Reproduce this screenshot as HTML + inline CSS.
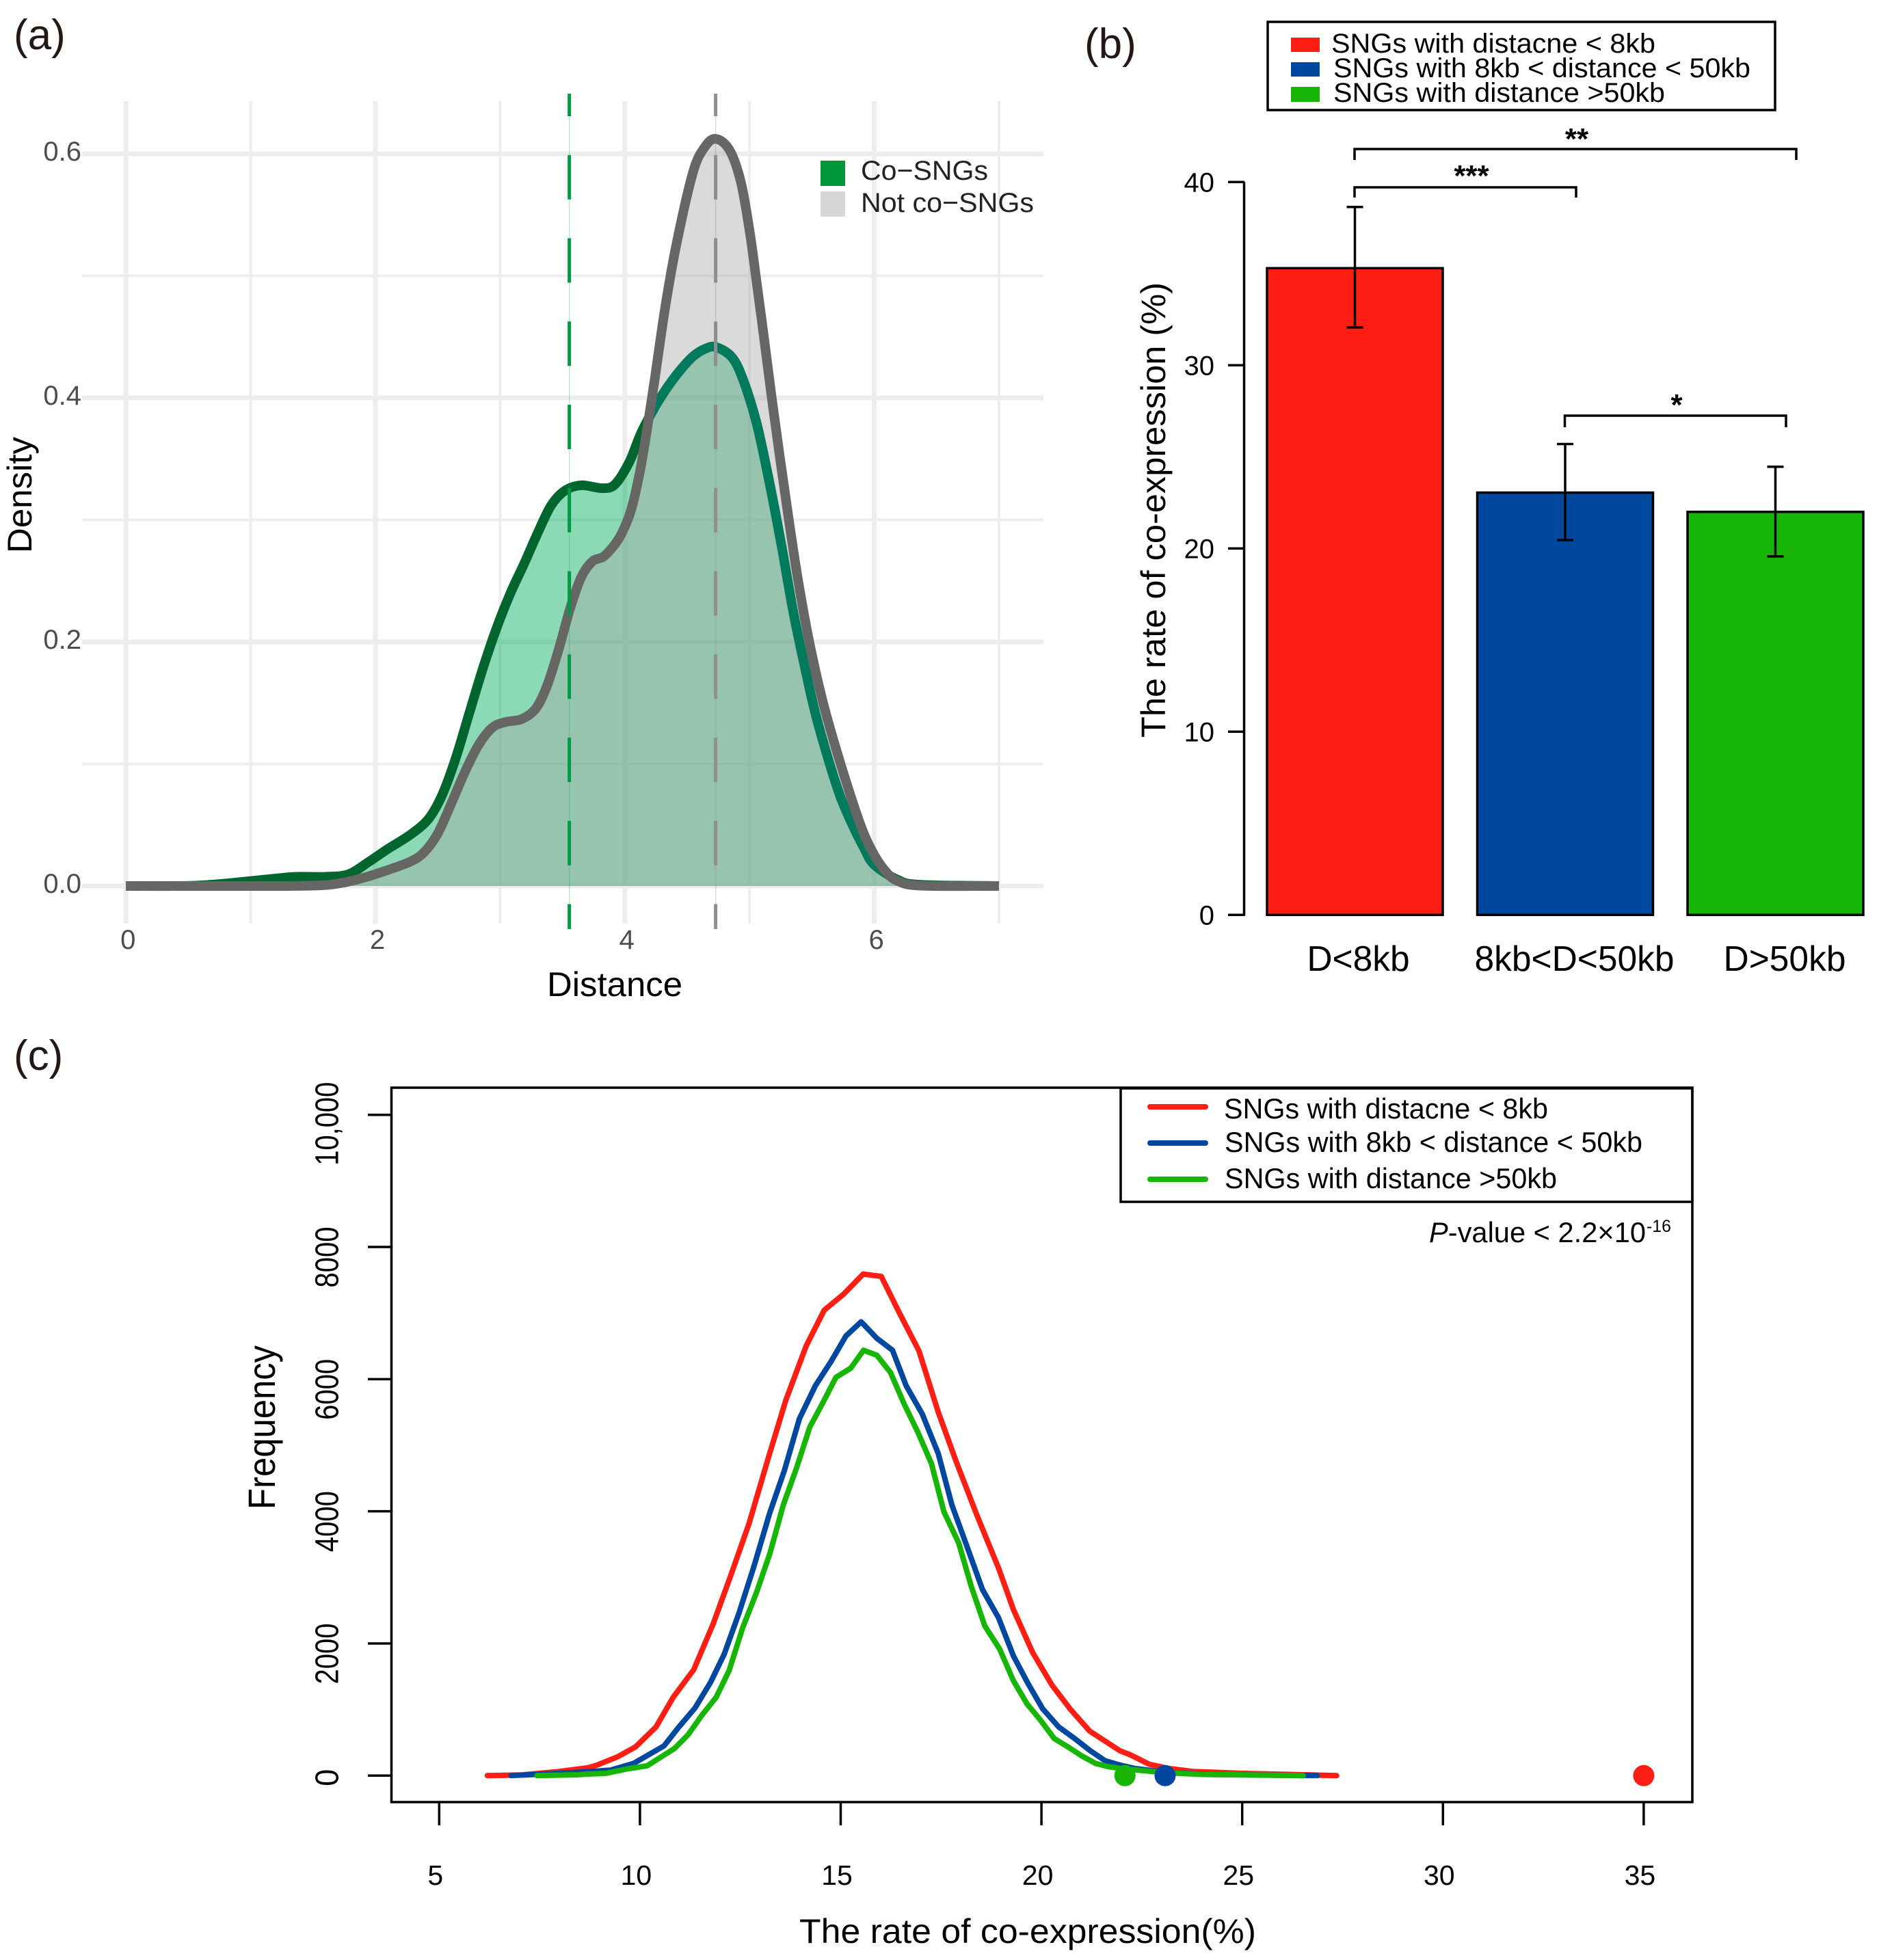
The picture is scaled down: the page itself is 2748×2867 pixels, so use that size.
<!DOCTYPE html>
<html>
<head>
<meta charset="utf-8">
<title>Co-SNG distance and co-expression</title>
<style>
html,body{margin:0;padding:0;background:#fff;width:2748px;height:2867px;overflow:hidden}
svg{display:block}
text{font-family:"Liberation Sans",Arial,sans-serif}
</style>
</head>
<body>
<svg id="fig" xmlns="http://www.w3.org/2000/svg" width="2748" height="2867" viewBox="0 0 2748 2867">
<rect width="2748" height="2867" fill="#fff"/>
<text x="20" y="72" font-size="62" fill="#231815">(a)</text>
<text x="1586" y="85" font-size="62" fill="#231815">(b)</text>
<text x="20" y="1565" font-size="62" fill="#231815">(c)</text>

<g id="panelA"></g>
<text x="899" y="1457" font-size="50" text-anchor="middle" textLength="198" lengthAdjust="spacingAndGlyphs" fill="#000">Distance</text>
<text transform="translate(46,724) rotate(-90)" font-size="50" text-anchor="middle" textLength="170" lengthAdjust="spacingAndGlyphs" fill="#000">Density</text>
<rect x="1200" y="235" width="36" height="37" fill="#009639"/>
<rect x="1200" y="280" width="36" height="37" fill="#d6d6d6"/>
<text x="1259" y="263" font-size="40" textLength="186" lengthAdjust="spacingAndGlyphs" fill="#222">Co−SNGs</text>
<text x="1259" y="310" font-size="40" textLength="253" lengthAdjust="spacingAndGlyphs" fill="#222">Not co−SNGs</text>

<g id="panelB"></g>
<g>
<rect x="1854" y="32" width="742" height="129" fill="#fff" stroke="#000" stroke-width="3.5"/>
<rect x="1888" y="55" width="42" height="21" fill="#ff1e14"/>
<rect x="1888" y="91" width="42" height="21" fill="#0047a0"/>
<rect x="1888" y="127" width="42" height="22" fill="#17b505"/>
<text x="1947" y="77" font-size="40" textLength="474" lengthAdjust="spacingAndGlyphs">SNGs with distacne &lt; 8kb</text>
<text x="1950" y="113" font-size="40" textLength="610" lengthAdjust="spacingAndGlyphs">SNGs with 8kb &lt; distance &lt; 50kb</text>
<text x="1950" y="149" font-size="40" textLength="485" lengthAdjust="spacingAndGlyphs">SNGs with distance &gt;50kb</text>
</g>
<text transform="translate(1704,746) rotate(-90)" font-size="50" text-anchor="middle" textLength="666" lengthAdjust="spacingAndGlyphs">The rate of co-expression (%)</text>
<g fill="none" stroke="#000" stroke-width="3.5">
<path d="M1981 234V218H2627V234"/>
<path d="M1981 289V274H2305V289"/>
<path d="M2288.5 625V608H2612V625"/>
</g>
<text x="2306" y="218" font-size="44" text-anchor="middle" font-weight="bold">**</text>
<text x="2152" y="272" font-size="44" text-anchor="middle" font-weight="bold">***</text>
<text x="2452" y="607" font-size="44" text-anchor="middle" font-weight="bold">*</text>

<g id="panelC"></g>
<g>
<rect x="1639" y="1592" width="836" height="166" fill="none" stroke="#000" stroke-width="3.5"/>
<line x1="1682" x2="1763" y1="1619" y2="1619" stroke="#ff1e14" stroke-width="8" stroke-linecap="round"/>
<line x1="1682" x2="1763" y1="1672" y2="1672" stroke="#0047a0" stroke-width="8" stroke-linecap="round"/>
<line x1="1682" x2="1763" y1="1725" y2="1725" stroke="#17b505" stroke-width="8" stroke-linecap="round"/>
<text x="1790" y="1636" font-size="42" textLength="474" lengthAdjust="spacingAndGlyphs">SNGs with distacne &lt; 8kb</text>
<text x="1791" y="1685" font-size="42" textLength="611" lengthAdjust="spacingAndGlyphs">SNGs with 8kb &lt; distance &lt; 50kb</text>
<text x="1791" y="1738" font-size="42" textLength="486" lengthAdjust="spacingAndGlyphs">SNGs with distance &gt;50kb</text>
</g>
<text x="2090" y="1817" font-size="42" textLength="317" lengthAdjust="spacingAndGlyphs"><tspan font-style="italic">P</tspan>-value &lt; 2.2×10</text>
<text x="2408" y="1802" font-size="25" textLength="36" lengthAdjust="spacingAndGlyphs">-16</text>
<text x="1503" y="2842" font-size="50" text-anchor="middle" textLength="668" lengthAdjust="spacingAndGlyphs">The rate of co-expression(%)</text>
<text transform="translate(402,2088) rotate(-90)" font-size="56" text-anchor="middle" textLength="240" lengthAdjust="spacingAndGlyphs">Frequency</text>
</svg>

<script>
/* Panel (a) data */
const densityXTicks = [0, 2, 4, 6];
const densityXMinor = [1, 3, 5, 7];
const densityYTicks = [0, 0.2, 0.4, 0.6];
const densityYMinor = [0.1, 0.3, 0.5];
const densityYLabels = ['0.0', '0.2', '0.4', '0.6'];
const coX = [0, 0.6, 1.183, 1.365, 1.604, 1.786, 1.95, 2.097, 2.28, 2.426, 2.535, 2.645, 2.754, 2.864, 2.973, 3.083, 3.192, 3.3, 3.41, 3.52, 3.65, 3.815, 3.92, 4.034, 4.125, 4.2, 4.273, 4.364, 4.455, 4.547, 4.64, 4.728, 4.857, 4.948, 5.058, 5.168, 5.258, 5.35, 5.44, 5.53, 5.643, 5.734, 5.826, 5.917, 6, 6.19, 6.37, 7];
const coY = [0, 0.0005, 0.006, 0.0076, 0.0076, 0.0097, 0.02, 0.0302, 0.042, 0.055, 0.0745, 0.105, 0.142, 0.179, 0.2117, 0.24, 0.264, 0.289, 0.312, 0.324, 0.3284, 0.326, 0.329, 0.347, 0.37, 0.385, 0.398, 0.412, 0.424, 0.434, 0.44, 0.4417, 0.4335, 0.415, 0.3787, 0.3263, 0.278, 0.225, 0.181, 0.1406, 0.1, 0.0717, 0.05, 0.0314, 0.0174, 0.005, 0.001, 0];
const notX = [0, 1.18, 1.55, 1.73, 1.914, 2.097, 2.28, 2.39, 2.5, 2.61, 2.72, 2.83, 2.94, 3.05, 3.17, 3.285, 3.376, 3.47, 3.56, 3.65, 3.74, 3.83, 3.92, 3.98, 4.05, 4.118, 4.172, 4.235, 4.326, 4.418, 4.547, 4.637, 4.728, 4.84, 4.93, 5, 5.05, 5.115, 5.178, 5.245, 5.315, 5.39, 5.479, 5.59, 5.73, 5.89, 6, 6.1, 6.19, 6.37, 7];
const notY = [0, 0, 0.0005, 0.0025, 0.007, 0.013, 0.02, 0.0276, 0.043, 0.068, 0.094, 0.116, 0.13, 0.1345, 0.1367, 0.1453, 0.164, 0.194, 0.227, 0.253, 0.266, 0.27, 0.28, 0.29, 0.308, 0.338, 0.37, 0.412, 0.4757, 0.528, 0.585, 0.605, 0.6123, 0.603, 0.577, 0.537, 0.5, 0.45, 0.4, 0.35, 0.3, 0.25, 0.2, 0.15, 0.1, 0.05, 0.0254, 0.011, 0.004, 0.0003, 0];
const coMedian = 3.555;
const notMedian = 4.728;

/* Panel (b) data */
const barCategories = ['D<8kb', '8kb<D<50kb', 'D>50kb'];
const barValues = [35.3, 23.05, 22];
const barErrHigh = [38.64, 25.7, 24.46];
const barErrLow = [32.07, 20.46, 19.57];
const barColors = ['#ff1e14', '#0047a0', '#17b505'];
const barYTicks = [0, 10, 20, 30, 40];

/* Panel (c) data */
const freqXTicks = [5, 10, 15, 20, 25, 30, 35];
const freqYTicks = [0, 2000, 4000, 6000, 8000, 10000];
const freqYLabels = ['0', '2000', '4000', '6000', '8000', '10,000'];
const redX = [6.2, 7.03, 7.99, 8.7, 8.93, 9.44, 9.89, 10.4, 10.83, 11.34, 11.82, 12.27, 12.72, 13.18, 13.63, 14.14, 14.59, 15.08, 15.56, 16.01, 16.46, 16.95, 17.43, 17.88, 18.39, 18.93, 19.3, 19.78, 20.26, 20.71, 21.2, 21.68, 21.96, 22.21, 22.69, 23.17, 23.77, 24.96, 26.16, 27.35];
const redY = [0, 9, 63, 119, 159, 284, 435, 736, 1187, 1603, 2290, 3042, 3820, 4772, 5675, 6502, 7044, 7290, 7590, 7555, 7004, 6427, 5500, 4747, 3945, 3143, 2516, 1864, 1372, 1012, 675, 485, 375, 316, 171, 108, 63, 36, 18, 0];
const blueX = [6.79, 7.99, 8.7, 9.27, 9.84, 10.6, 10.97, 11.37, 11.76, 12.1, 12.47, 12.84, 13.23, 13.6, 13.97, 14.37, 14.77, 15.13, 15.51, 15.9, 16.29, 16.63, 17.03, 17.43, 17.77, 18.16, 18.53, 18.93, 19.3, 19.67, 20.03, 20.43, 20.83, 21.22, 21.59, 21.96, 22.33, 23.17, 24.24, 26.87];
const blueY = [0, 36, 59, 84, 184, 450, 736, 1022, 1413, 1839, 2466, 3168, 3970, 4622, 5399, 5901, 6277, 6653, 6868, 6618, 6437, 5901, 5474, 4873, 4095, 3444, 2817, 2390, 1814, 1388, 1012, 736, 560, 375, 224, 159, 108, 45, 18, 0];
const greenX = [7.44, 8.47, 8.7, 9.15, 9.66, 10.18, 10.86, 11.2, 11.54, 11.9, 12.22, 12.56, 12.9, 13.24, 13.57, 13.91, 14.23, 14.54, 14.88, 15.25, 15.57, 15.9, 16.24, 16.58, 16.92, 17.26, 17.57, 17.94, 18.25, 18.59, 18.96, 19.3, 19.64, 19.98, 20.32, 20.66, 21, 21.35, 21.68, 21.96, 23.05, 24, 25.2, 26.52];
const greenY = [0, 14, 24, 34, 99, 149, 410, 620, 911, 1187, 1588, 2240, 2766, 3368, 4095, 4672, 5274, 5625, 6026, 6166, 6437, 6362, 6101, 5625, 5199, 4722, 3995, 3519, 2867, 2265, 1914, 1438, 1087, 836, 560, 435, 300, 184, 134, 109, 45, 18, 9, 0];
const observedX = [35, 23.08, 22.08];
const observedY = [0, 0, 0];

const NS = 'http://www.w3.org/2000/svg';
function mk(tag, attrs, parent, txt) {
  const el = document.createElementNS(NS, tag);
  for (const k in attrs) el.setAttribute(k, attrs[k]);
  if (txt !== undefined) el.textContent = txt;
  parent.appendChild(el);
  return el;
}

/* ---------- Panel (a) ---------- */
const A = document.getElementById('panelA');
const ax = v => 184.2 + 182.4 * v;
const ay = v => 1296 - 1785 * v;
const GRID = '#ededed';

densityXMinor.forEach(v => {
  const el = mk('line', {x1: ax(v), x2: ax(v), y1: 148, y2: 1351, stroke: GRID, 'stroke-width': 4}, A);
  
  
});
densityYMinor.forEach(v => {
  const el = mk('line', {x1: 120, x2: 1526, y1: ay(v), y2: ay(v), stroke: GRID, 'stroke-width': 4}, A);
  
  
});
densityXTicks.forEach(v => {
  const el = mk('line', {x1: ax(v), x2: ax(v), y1: 148, y2: 1351, stroke: GRID, 'stroke-width': 7}, A);
  
  
  const t = mk('text', {x: ax(v) + 3, y: 1388, 'font-size': 40, 'text-anchor': 'middle', fill: '#4d4d4d'}, A, String(v));
  
  
});
densityYTicks.forEach((v, i) => {
  const el = mk('line', {x1: 120, x2: 1526, y1: ay(v), y2: ay(v), stroke: GRID, 'stroke-width': 7}, A);
  
  
  const t = mk('text', {x: 119, y: ay(v) + 10, 'font-size': 40, 'text-anchor': 'end', fill: '#4d4d4d'}, A, densityYLabels[i]);
  
  
});

function smoothPath(xs, ys) {
  const p = xs.map((x, i) => [ax(x), ay(ys[i])]);
  let d = 'M' + p[0][0] + ' ' + p[0][1];
  for (let i = 0; i < p.length - 1; i++) {
    const a = p[Math.max(i - 1, 0)], b = p[i], c = p[i + 1], e = p[Math.min(i + 2, p.length - 1)];
    const c1x = b[0] + (c[0] - a[0]) / 6, c1y = b[1] + (c[1] - a[1]) / 6;
    const c2x = c[0] - (e[0] - b[0]) / 6, c2y = c[1] - (e[1] - b[1]) / 6;
    d += 'C' + c1x + ' ' + c1y + ' ' + c2x + ' ' + c2y + ' ' + c[0] + ' ' + c[1];
  }
  return d;
}
const coLine = smoothPath(coX, coY);
const notLine = smoothPath(notX, notY);
const baseClose = xs => 'L' + ax(xs[xs.length - 1]) + ' ' + ay(0) + 'L' + ax(xs[0]) + ' ' + ay(0) + 'Z';

const coFill = mk('path', {d: coLine + baseClose(coX), fill: 'rgba(0,170,90,0.45)'}, A);


const coStroke = mk('path', {d: coLine, fill: 'none', stroke: '#00662e', 'stroke-width': 14}, A);



const notFill = mk('path', {d: notLine + baseClose(notX), fill: 'rgba(166,166,166,0.42)'}, A);



const defs = mk('defs', {}, A);
const clip = mk('clipPath', {id: 'notClip'}, defs);
mk('path', {d: notLine + baseClose(notX)}, clip);
const coOverlap = mk('path', {d: coLine, fill: 'none', stroke: '#007a5c', 'stroke-width': 14, 'clip-path': 'url(#notClip)'}, A);



const notStroke = mk('path', {d: notLine, fill: 'none', stroke: '#666665', 'stroke-width': 14}, A);



const coThin = mk('line', {x1: ax(coMedian), x2: ax(coMedian), y1: 137, y2: 1359, stroke: 'rgba(0,150,70,0.25)', 'stroke-width': 1.5}, A);


const coDash = mk('line', {x1: ax(coMedian), x2: ax(coMedian), y1: 137, y2: 1359, stroke: '#009944', 'stroke-width': 5, 'stroke-dasharray': '65 56.75', 'stroke-dashoffset': 32}, A);


const notThin = mk('line', {x1: ax(notMedian), x2: ax(notMedian), y1: 137, y2: 1359, stroke: 'rgba(130,130,130,0.3)', 'stroke-width': 1.5}, A);


const notDash = mk('line', {x1: ax(notMedian), x2: ax(notMedian), y1: 137, y2: 1359, stroke: '#8e8e8e', 'stroke-width': 5, 'stroke-dasharray': '65 56.75', 'stroke-dashoffset': 32}, A);



/* ---------- Panel (b) ---------- */
const B = document.getElementById('panelB');
const by = v => 1338.3 - 26.8 * v;
const bx = i => 1981.5 + 307.5 * i;
const BW = 257;

barYTicks.forEach(v => {
  const tick = mk('line', {x1: 1796, x2: 1820, y1: by(v), y2: by(v), stroke: '#000', 'stroke-width': 3.5}, B);
  
  
  const t = mk('text', {x: 1776, y: by(v) + 14, 'font-size': 40, 'text-anchor': 'end'}, B, String(v));
  
  
});
const bAxis = mk('line', {x1: 1819.5, x2: 1819.5, y1: by(40), y2: by(0) + 1.5, stroke: '#000', 'stroke-width': 3.5}, B);



barCategories.forEach((c, i) => {
  const r = mk('rect', {x: bx(i) - BW / 2, y: by(barValues[i]), width: BW, height: by(0) - by(barValues[i]), fill: barColors[i], stroke: '#000', 'stroke-width': 3.5}, B);
  
  
  const e = mk('path', {d: 'M' + (bx(i) - 12) + ' ' + by(barErrHigh[i]) + 'H' + (bx(i) + 12) + 'M' + bx(i) + ' ' + by(barErrHigh[i]) + 'V' + by(barErrLow[i]) + 'M' + (bx(i) - 12) + ' ' + by(barErrLow[i]) + 'H' + (bx(i) + 12), fill: 'none', stroke: '#000', 'stroke-width': 3.5}, B);
  
  
  const t = mk('text', {x: bx(i) + (i === 0 ? 5 : 13.5), y: 1420, 'font-size': 51.5, 'text-anchor': 'middle'}, B, c);
  
  
});

/* ---------- Panel (c) ---------- */
const C = document.getElementById('panelC');
const cx = v => 642.3 + 58.72 * (v - 5);
const cy = v => 2597.3 - 0.09666 * v;

const cBox = mk('rect', {x: 572.5, y: 1591, width: 1902.5, height: 1045, fill: 'none', stroke: '#000', 'stroke-width': 3.5}, C);



freqXTicks.forEach(v => {
  const tick = mk('line', {x1: cx(v), x2: cx(v), y1: 2636, y2: 2670, stroke: '#000', 'stroke-width': 3.5}, C);
  
  
  const t = mk('text', {x: cx(v) - 5.5, y: 2757, 'font-size': 41, 'text-anchor': 'middle'}, C, String(v));
  
  
});
freqYTicks.forEach((v, i) => {
  const tick = mk('line', {x1: 538, x2: 572, y1: cy(v), y2: cy(v), stroke: '#000', 'stroke-width': 3.5}, C);
  
  
  const lab = freqYLabels[i];
  const shift = lab.length === 1 ? 3 : (lab.length > 4 ? 13 : 15);
  const len = lab.length === 1 ? 25 : (lab.length > 4 ? 122 : 89);
  const t = mk('text', {transform: 'translate(494.7,' + (cy(v) + shift) + ') rotate(-90)', 'font-size': 48, 'text-anchor': 'middle', textLength: len, lengthAdjust: 'spacingAndGlyphs'}, C, lab);
  
  
});

const linePoints = (xs, ys) => xs.map((x, i) => cx(x) + ',' + cy(ys[i])).join(' ');
const redLine = mk('polyline', {points: linePoints(redX, redY), fill: 'none', stroke: '#ff1e14', 'stroke-width': 8, 'stroke-linejoin': 'round', 'stroke-linecap': 'round'}, C);


const blueLine = mk('polyline', {points: linePoints(blueX, blueY), fill: 'none', stroke: '#0047a0', 'stroke-width': 8, 'stroke-linejoin': 'round', 'stroke-linecap': 'round'}, C);


const greenLine = mk('polyline', {points: linePoints(greenX, greenY), fill: 'none', stroke: '#17b505', 'stroke-width': 8, 'stroke-linejoin': 'round', 'stroke-linecap': 'round'}, C);



observedX.forEach((x, i) => {
  const dot = mk('circle', {cx: cx(x), cy: cy(observedY[i]), r: 15.5, fill: barColors[i]}, C);
  
  
});
</script>
</body>
</html>
